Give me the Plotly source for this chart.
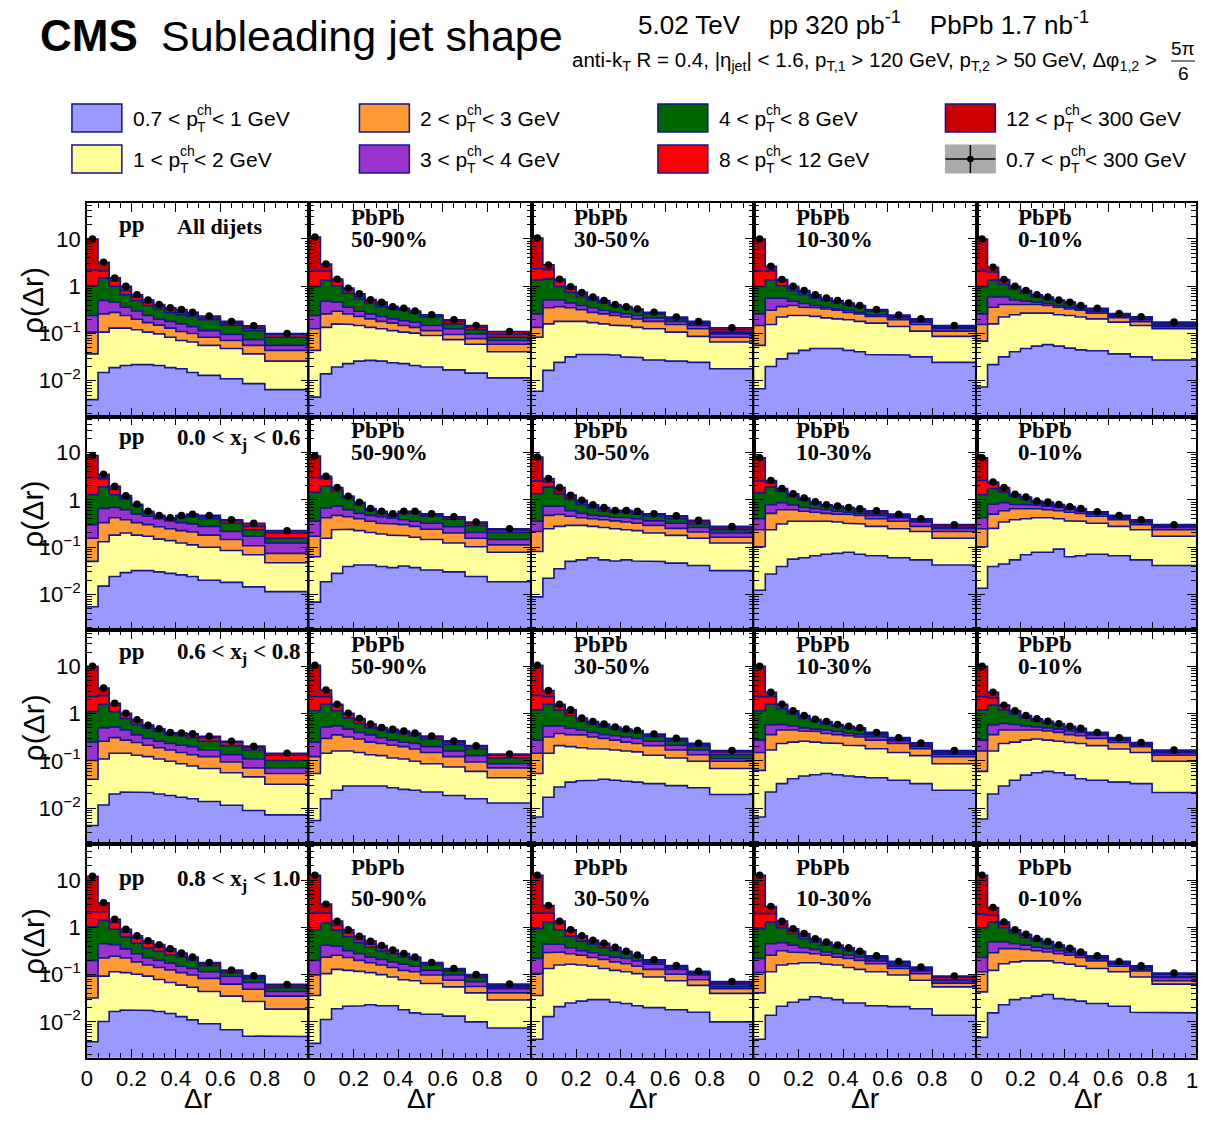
import plotly.graph_objects as go

# the page body keeps its default 8px margin, so the figure sits 8px in from the
# top-left corner; sized so the page is exactly 1206 x 1122 with nothing spilling over.
# positions below are screen pixels, mapped to paper coordinates by px()/py()
# (SX, BX undo the slight horizontal narrowing seen in the photographed page)
FW, FH, OFF = 1190, 1106, 8
SX, BX = 0.995, 4.0
SANS = "Liberation Sans, Arial, sans-serif"
SERIF = "Liberation Serif, Times New Roman, serif"
NAVY = "#14148c"

# --- binning -----------------------------------------------------------------
dr_edges = [0, 0.05, 0.1, 0.15, 0.2, 0.25, 0.3, 0.35, 0.4, 0.45, 0.5, 0.6, 0.7, 0.8, 1.0]
dr_centers = [0.025, 0.075, 0.125, 0.175, 0.225, 0.275, 0.325, 0.375, 0.425, 0.475,
              0.55, 0.65, 0.75, 0.9]

pt_lo = ["0.7", "1", "2", "3", "4", "8", "12", "0.7"]
pt_hi = ["1", "2", "3", "4", "8", "12", "300", "300"]
pt_colors = ["#9999ff", "#ffff99", "#ff9933", "#9933cc", "#006600", "#ff0000", "#cc0000"]

xj_labels = ["All dijets", "0.0 &lt; x<sub>j</sub> &lt; 0.6",
             "0.6 &lt; x<sub>j</sub> &lt; 0.8", "0.8 &lt; x<sub>j</sub> &lt; 1.0"]
cent_labels = ["pp", "50-90%", "30-50%", "10-30%", "0-10%"]

# --- data: cumulative stack height (top of each pT layer), per panel, row-major
stack_07_1 = [
    [0.0040, 0.015, 0.019, 0.021, 0.022, 0.022, 0.021, 0.019, 0.018, 0.015, 0.013, 0.011, 0.0087, 0.0065],
    [0.0045, 0.014, 0.0195, 0.023, 0.026, 0.027, 0.026, 0.024, 0.023, 0.021, 0.0195, 0.017, 0.0145, 0.0115],
    [0.0060, 0.0166, 0.0245, 0.032, 0.036, 0.037, 0.036, 0.035, 0.032, 0.031, 0.0275, 0.026, 0.0245, 0.018],
    [0.0068, 0.020, 0.029, 0.038, 0.044, 0.048, 0.049, 0.048, 0.044, 0.041, 0.036, 0.035, 0.032, 0.0245],
    [0.0074, 0.022, 0.032, 0.041, 0.048, 0.054, 0.058, 0.054, 0.049, 0.045, 0.043, 0.037, 0.032, 0.0275],
    [0.0055, 0.015, 0.024, 0.029, 0.032, 0.032, 0.030, 0.028, 0.026, 0.024, 0.020, 0.018, 0.0145, 0.0115],
    [0.0069, 0.0186, 0.028, 0.039, 0.042, 0.042, 0.039, 0.037, 0.040, 0.037, 0.033, 0.030, 0.024, 0.0186],
    [0.0089, 0.022, 0.035, 0.050, 0.054, 0.060, 0.054, 0.051, 0.054, 0.051, 0.050, 0.046, 0.041, 0.032],
    [0.0123, 0.027, 0.039, 0.056, 0.060, 0.066, 0.071, 0.074, 0.078, 0.071, 0.066, 0.060, 0.054, 0.042],
    [0.0135, 0.039, 0.044, 0.054, 0.069, 0.078, 0.078, 0.091, 0.063, 0.066, 0.071, 0.066, 0.054, 0.041],
    [0.0043, 0.0117, 0.020, 0.022, 0.022, 0.0214, 0.020, 0.0186, 0.017, 0.0158, 0.0138, 0.0115, 0.0089, 0.0072],
    [0.0055, 0.0158, 0.024, 0.0295, 0.030, 0.030, 0.0295, 0.027, 0.025, 0.024, 0.022, 0.0186, 0.0158, 0.0129],
    [0.0065, 0.017, 0.028, 0.0355, 0.038, 0.039, 0.041, 0.039, 0.037, 0.0355, 0.033, 0.030, 0.027, 0.0195],
    [0.0065, 0.022, 0.033, 0.042, 0.048, 0.051, 0.054, 0.051, 0.048, 0.046, 0.044, 0.039, 0.033, 0.024],
    [0.0059, 0.020, 0.0295, 0.039, 0.050, 0.056, 0.060, 0.056, 0.050, 0.042, 0.039, 0.0355, 0.033, 0.0214],
    [0.0038, 0.0102, 0.0166, 0.0178, 0.0178, 0.0174, 0.0166, 0.015, 0.0129, 0.011, 0.0091, 0.0068, 0.005, 0.0049],
    [0.0035, 0.0112, 0.019, 0.0214, 0.022, 0.023, 0.022, 0.022, 0.018, 0.0155, 0.0145, 0.0132, 0.010, 0.0074],
    [0.0043, 0.0129, 0.021, 0.025, 0.0275, 0.0295, 0.0295, 0.026, 0.0245, 0.022, 0.020, 0.018, 0.016, 0.010],
    [0.0043, 0.0138, 0.0214, 0.026, 0.0295, 0.034, 0.032, 0.0295, 0.025, 0.025, 0.022, 0.021, 0.019, 0.0138],
    [0.0047, 0.0155, 0.023, 0.0295, 0.032, 0.035, 0.038, 0.031, 0.0295, 0.0275, 0.0245, 0.0214, 0.016, 0.0155],
]

stack_1_2 = [
    [0.037, 0.107, 0.13, 0.13, 0.12, 0.107, 0.098, 0.083, 0.071, 0.066, 0.056, 0.048, 0.037, 0.026],
    [0.044, 0.135, 0.16, 0.155, 0.148, 0.135, 0.126, 0.115, 0.107, 0.102, 0.091, 0.074, 0.059, 0.041],
    [0.083, 0.16, 0.18, 0.186, 0.18, 0.17, 0.16, 0.15, 0.145, 0.135, 0.126, 0.107, 0.087, 0.066],
    [0.056, 0.155, 0.224, 0.24, 0.24, 0.23, 0.214, 0.204, 0.195, 0.18, 0.166, 0.141, 0.112, 0.087],
    [0.069, 0.16, 0.224, 0.25, 0.27, 0.275, 0.27, 0.25, 0.24, 0.224, 0.204, 0.174, 0.148, 0.126],
    [0.050, 0.13, 0.18, 0.20, 0.18, 0.17, 0.148, 0.138, 0.123, 0.112, 0.10, 0.085, 0.069, 0.047],
    [0.063, 0.155, 0.234, 0.24, 0.224, 0.204, 0.19, 0.18, 0.174, 0.162, 0.145, 0.123, 0.102, 0.078],
    [0.081, 0.245, 0.275, 0.29, 0.29, 0.275, 0.26, 0.245, 0.234, 0.224, 0.20, 0.178, 0.155, 0.123],
    [0.102, 0.234, 0.31, 0.355, 0.36, 0.36, 0.355, 0.34, 0.32, 0.31, 0.275, 0.245, 0.214, 0.155],
    [0.102, 0.25, 0.34, 0.38, 0.40, 0.42, 0.42, 0.40, 0.36, 0.355, 0.32, 0.275, 0.234, 0.17],
    [0.041, 0.11, 0.145, 0.145, 0.132, 0.123, 0.11, 0.098, 0.087, 0.078, 0.069, 0.056, 0.046, 0.032],
    [0.054, 0.145, 0.162, 0.162, 0.15, 0.135, 0.129, 0.115, 0.11, 0.098, 0.087, 0.074, 0.060, 0.044],
    [0.054, 0.145, 0.21, 0.20, 0.19, 0.18, 0.178, 0.17, 0.162, 0.155, 0.132, 0.115, 0.098, 0.069],
    [0.063, 0.17, 0.234, 0.25, 0.26, 0.25, 0.24, 0.234, 0.214, 0.21, 0.18, 0.15, 0.129, 0.087],
    [0.060, 0.162, 0.234, 0.25, 0.275, 0.29, 0.275, 0.26, 0.245, 0.234, 0.21, 0.178, 0.15, 0.098],
    [0.032, 0.093, 0.115, 0.11, 0.102, 0.093, 0.079, 0.068, 0.060, 0.054, 0.044, 0.035, 0.027, 0.0186],
    [0.036, 0.105, 0.129, 0.123, 0.117, 0.11, 0.10, 0.089, 0.078, 0.074, 0.065, 0.055, 0.041, 0.029],
    [0.036, 0.135, 0.16, 0.166, 0.16, 0.15, 0.135, 0.123, 0.115, 0.105, 0.089, 0.074, 0.059, 0.040],
    [0.041, 0.115, 0.16, 0.17, 0.178, 0.178, 0.166, 0.16, 0.141, 0.129, 0.115, 0.098, 0.076, 0.055],
    [0.043, 0.123, 0.17, 0.186, 0.195, 0.20, 0.195, 0.178, 0.166, 0.15, 0.135, 0.115, 0.089, 0.063],
]

stack_2_3 = [
    [0.107, 0.26, 0.28, 0.24, 0.20, 0.17, 0.15, 0.13, 0.11, 0.10, 0.083, 0.071, 0.056, 0.044],
    [0.126, 0.26, 0.295, 0.26, 0.23, 0.204, 0.18, 0.166, 0.148, 0.135, 0.115, 0.095, 0.078, 0.059],
    [0.135, 0.35, 0.37, 0.35, 0.32, 0.28, 0.26, 0.24, 0.224, 0.204, 0.18, 0.155, 0.126, 0.083],
    [0.148, 0.31, 0.37, 0.39, 0.36, 0.35, 0.33, 0.31, 0.28, 0.26, 0.23, 0.195, 0.155, 0.112],
    [0.155, 0.36, 0.41, 0.41, 0.41, 0.41, 0.39, 0.36, 0.33, 0.31, 0.27, 0.215, 0.178, 0.138],
    [0.155, 0.33, 0.42, 0.38, 0.33, 0.30, 0.27, 0.245, 0.224, 0.21, 0.18, 0.145, 0.107, 0.074],
    [0.17, 0.42, 0.47, 0.44, 0.40, 0.355, 0.32, 0.31, 0.30, 0.275, 0.24, 0.20, 0.155, 0.112],
    [0.214, 0.47, 0.49, 0.45, 0.42, 0.40, 0.38, 0.36, 0.34, 0.32, 0.29, 0.25, 0.21, 0.162],
    [0.234, 0.52, 0.62, 0.62, 0.575, 0.55, 0.52, 0.50, 0.49, 0.47, 0.40, 0.355, 0.275, 0.214],
    [0.245, 0.50, 0.59, 0.65, 0.65, 0.65, 0.62, 0.59, 0.55, 0.52, 0.45, 0.38, 0.30, 0.234],
    [0.102, 0.26, 0.31, 0.275, 0.245, 0.214, 0.19, 0.17, 0.15, 0.135, 0.123, 0.095, 0.071, 0.054],
    [0.123, 0.30, 0.355, 0.32, 0.29, 0.25, 0.234, 0.214, 0.20, 0.178, 0.15, 0.123, 0.095, 0.071],
    [0.145, 0.32, 0.38, 0.36, 0.355, 0.32, 0.30, 0.275, 0.25, 0.234, 0.21, 0.17, 0.135, 0.098],
    [0.15, 0.36, 0.45, 0.45, 0.43, 0.42, 0.38, 0.36, 0.34, 0.32, 0.275, 0.234, 0.18, 0.123],
    [0.162, 0.36, 0.45, 0.45, 0.45, 0.45, 0.43, 0.40, 0.36, 0.34, 0.30, 0.245, 0.20, 0.132],
    [0.093, 0.224, 0.245, 0.224, 0.186, 0.16, 0.141, 0.126, 0.11, 0.098, 0.083, 0.063, 0.049, 0.035],
    [0.098, 0.234, 0.257, 0.23, 0.20, 0.178, 0.16, 0.141, 0.123, 0.115, 0.098, 0.076, 0.056, 0.041],
    [0.105, 0.29, 0.30, 0.275, 0.257, 0.23, 0.21, 0.186, 0.17, 0.15, 0.129, 0.102, 0.078, 0.050],
    [0.11, 0.257, 0.32, 0.30, 0.29, 0.275, 0.257, 0.234, 0.22, 0.20, 0.17, 0.135, 0.105, 0.066],
    [0.115, 0.29, 0.355, 0.355, 0.34, 0.32, 0.30, 0.275, 0.257, 0.23, 0.195, 0.15, 0.12, 0.074],
]

stack_3_4 = [
    [0.24, 0.50, 0.46, 0.36, 0.30, 0.24, 0.20, 0.18, 0.16, 0.14, 0.115, 0.095, 0.074, 0.056],
    [0.24, 0.48, 0.46, 0.36, 0.295, 0.26, 0.23, 0.204, 0.186, 0.174, 0.148, 0.126, 0.098, 0.071],
    [0.26, 0.51, 0.51, 0.44, 0.39, 0.35, 0.31, 0.28, 0.26, 0.24, 0.214, 0.18, 0.148, 0.098],
    [0.26, 0.56, 0.56, 0.48, 0.43, 0.39, 0.36, 0.33, 0.31, 0.28, 0.25, 0.214, 0.174, 0.126],
    [0.26, 0.59, 0.59, 0.51, 0.48, 0.46, 0.43, 0.39, 0.36, 0.33, 0.295, 0.232, 0.195, 0.15],
    [0.30, 0.66, 0.69, 0.62, 0.50, 0.45, 0.40, 0.36, 0.33, 0.31, 0.275, 0.214, 0.17, 0.123],
    [0.355, 0.68, 0.74, 0.62, 0.52, 0.47, 0.44, 0.41, 0.38, 0.355, 0.32, 0.27, 0.204, 0.145],
    [0.355, 0.74, 0.74, 0.59, 0.52, 0.47, 0.45, 0.43, 0.42, 0.40, 0.36, 0.32, 0.26, 0.20],
    [0.40, 0.79, 0.87, 0.78, 0.69, 0.65, 0.62, 0.575, 0.55, 0.52, 0.47, 0.42, 0.34, 0.25],
    [0.42, 0.81, 0.87, 0.81, 0.79, 0.78, 0.74, 0.69, 0.63, 0.58, 0.50, 0.41, 0.33, 0.26],
    [0.25, 0.50, 0.52, 0.45, 0.355, 0.30, 0.26, 0.234, 0.214, 0.20, 0.17, 0.135, 0.11, 0.071],
    [0.25, 0.52, 0.55, 0.47, 0.40, 0.355, 0.31, 0.275, 0.25, 0.234, 0.20, 0.162, 0.129, 0.087],
    [0.275, 0.55, 0.55, 0.49, 0.45, 0.40, 0.36, 0.34, 0.32, 0.30, 0.26, 0.214, 0.17, 0.112],
    [0.275, 0.575, 0.59, 0.55, 0.50, 0.47, 0.45, 0.42, 0.38, 0.36, 0.32, 0.265, 0.20, 0.138],
    [0.275, 0.575, 0.62, 0.59, 0.55, 0.52, 0.50, 0.47, 0.43, 0.40, 0.355, 0.27, 0.215, 0.148],
    [0.20, 0.45, 0.43, 0.35, 0.275, 0.224, 0.20, 0.174, 0.15, 0.135, 0.115, 0.091, 0.068, 0.044],
    [0.20, 0.42, 0.40, 0.32, 0.275, 0.234, 0.21, 0.186, 0.166, 0.15, 0.123, 0.098, 0.071, 0.050],
    [0.22, 0.44, 0.44, 0.37, 0.32, 0.29, 0.257, 0.234, 0.22, 0.195, 0.166, 0.129, 0.098, 0.055],
    [0.22, 0.45, 0.47, 0.42, 0.37, 0.34, 0.30, 0.275, 0.257, 0.234, 0.195, 0.15, 0.12, 0.074],
    [0.23, 0.49, 0.49, 0.45, 0.42, 0.38, 0.355, 0.32, 0.29, 0.257, 0.215, 0.165, 0.13, 0.087],
]

stack_4_8 = [
    [1.02, 1.5, 1.0, 0.66, 0.50, 0.39, 0.33, 0.28, 0.25, 0.23, 0.195, 0.15, 0.115, 0.083],
    [0.98, 1.35, 1.02, 0.71, 0.54, 0.43, 0.37, 0.33, 0.31, 0.27, 0.224, 0.16, 0.12, 0.083],
    [1.35, 1.41, 0.98, 0.74, 0.59, 0.50, 0.44, 0.39, 0.35, 0.31, 0.26, 0.204, 0.16, 0.107],
    [0.98, 1.35, 1.02, 0.81, 0.66, 0.56, 0.50, 0.44, 0.39, 0.36, 0.295, 0.225, 0.186, 0.135],
    [0.98, 1.35, 1.10, 0.87, 0.71, 0.59, 0.52, 0.48, 0.43, 0.36, 0.315, 0.245, 0.205, 0.16],
    [1.29, 1.9, 1.29, 1.05, 0.76, 0.53, 0.43, 0.385, 0.42, 0.44, 0.40, 0.32, 0.234, 0.155],
    [1.45, 2.0, 1.51, 1.10, 0.78, 0.60, 0.52, 0.46, 0.52, 0.52, 0.46, 0.39, 0.29, 0.204],
    [1.35, 1.86, 1.35, 1.02, 0.79, 0.68, 0.575, 0.54, 0.54, 0.50, 0.45, 0.40, 0.31, 0.234],
    [1.41, 1.86, 1.51, 1.15, 0.98, 0.81, 0.74, 0.68, 0.65, 0.59, 0.52, 0.45, 0.36, 0.26],
    [1.29, 1.74, 1.48, 1.18, 1.02, 0.87, 0.83, 0.74, 0.66, 0.61, 0.52, 0.43, 0.35, 0.275],
    [1.10, 1.58, 1.10, 0.79, 0.59, 0.49, 0.42, 0.36, 0.34, 0.31, 0.26, 0.21, 0.17, 0.102],
    [1.15, 1.58, 1.15, 0.81, 0.62, 0.50, 0.45, 0.40, 0.37, 0.34, 0.29, 0.224, 0.178, 0.115],
    [1.20, 1.58, 1.20, 0.91, 0.69, 0.59, 0.52, 0.47, 0.42, 0.39, 0.33, 0.265, 0.205, 0.135],
    [1.15, 1.58, 1.26, 0.98, 0.79, 0.68, 0.60, 0.54, 0.49, 0.46, 0.36, 0.285, 0.215, 0.148],
    [1.20, 1.51, 1.20, 0.98, 0.81, 0.69, 0.62, 0.56, 0.50, 0.45, 0.37, 0.29, 0.225, 0.158],
    [1.02, 1.41, 0.91, 0.62, 0.46, 0.36, 0.31, 0.26, 0.234, 0.204, 0.155, 0.108, 0.083, 0.053],
    [0.89, 1.23, 0.87, 0.63, 0.47, 0.38, 0.32, 0.275, 0.234, 0.21, 0.16, 0.12, 0.087, 0.055],
    [0.93, 1.29, 0.89, 0.65, 0.51, 0.44, 0.37, 0.32, 0.275, 0.235, 0.18, 0.138, 0.105, 0.063],
    [0.93, 1.29, 0.98, 0.74, 0.575, 0.49, 0.42, 0.37, 0.32, 0.28, 0.22, 0.165, 0.127, 0.078],
    [0.98, 1.29, 0.98, 0.76, 0.60, 0.51, 0.44, 0.38, 0.33, 0.28, 0.232, 0.175, 0.14, 0.091],
]

stack_8_12 = [
    [2.2, 2.1, 1.3, 0.81, 0.59, 0.45, 0.37, 0.32, 0.275, 0.25, 0.21, 0.166, 0.13, 0.095],
    [2.1, 2.1, 1.29, 0.83, 0.60, 0.48, 0.41, 0.35, 0.32, 0.285, 0.235, 0.18, 0.135, 0.095],
    [2.34, 2.24, 1.32, 0.87, 0.66, 0.54, 0.48, 0.40, 0.36, 0.32, 0.27, 0.215, 0.172, 0.12],
    [2.1, 2.1, 1.29, 0.91, 0.74, 0.60, 0.54, 0.48, 0.42, 0.38, 0.31, 0.235, 0.195, 0.142],
    [2.1, 2.0, 1.32, 0.95, 0.78, 0.64, 0.56, 0.495, 0.445, 0.375, 0.33, 0.255, 0.215, 0.168],
    [2.95, 2.82, 1.66, 1.15, 0.78, 0.55, 0.45, 0.40, 0.44, 0.47, 0.44, 0.36, 0.275, 0.20],
    [2.95, 2.82, 1.66, 1.15, 0.85, 0.63, 0.55, 0.49, 0.55, 0.55, 0.49, 0.42, 0.32, 0.232],
    [2.51, 2.4, 1.51, 1.10, 0.87, 0.74, 0.65, 0.575, 0.575, 0.55, 0.49, 0.44, 0.345, 0.255],
    [2.51, 2.29, 1.58, 1.26, 1.02, 0.87, 0.76, 0.71, 0.67, 0.62, 0.56, 0.48, 0.38, 0.285],
    [2.57, 2.19, 1.66, 1.27, 1.10, 0.91, 0.87, 0.77, 0.69, 0.63, 0.54, 0.45, 0.365, 0.29],
    [2.29, 2.4, 1.48, 0.98, 0.68, 0.54, 0.46, 0.39, 0.375, 0.36, 0.31, 0.25, 0.19, 0.132],
    [2.29, 2.29, 1.48, 0.98, 0.74, 0.575, 0.49, 0.44, 0.41, 0.375, 0.32, 0.25, 0.20, 0.132],
    [2.4, 2.29, 1.41, 1.02, 0.78, 0.64, 0.565, 0.50, 0.45, 0.42, 0.355, 0.29, 0.225, 0.155],
    [2.29, 2.29, 1.48, 1.10, 0.87, 0.72, 0.645, 0.565, 0.515, 0.48, 0.385, 0.30, 0.23, 0.158],
    [2.29, 2.14, 1.48, 1.10, 0.87, 0.75, 0.66, 0.585, 0.52, 0.47, 0.385, 0.30, 0.235, 0.163],
    [2.14, 2.14, 1.26, 0.79, 0.59, 0.46, 0.38, 0.32, 0.265, 0.225, 0.17, 0.118, 0.09, 0.058],
    [2.0, 2.0, 1.10, 0.76, 0.55, 0.44, 0.37, 0.315, 0.268, 0.225, 0.172, 0.128, 0.094, 0.059],
    [2.0, 2.0, 1.20, 0.83, 0.63, 0.50, 0.43, 0.36, 0.30, 0.25, 0.195, 0.148, 0.112, 0.066],
    [1.95, 1.95, 1.10, 0.83, 0.65, 0.54, 0.45, 0.40, 0.35, 0.30, 0.238, 0.18, 0.137, 0.087],
    [1.86, 1.78, 1.15, 0.85, 0.68, 0.55, 0.48, 0.40, 0.345, 0.29, 0.24, 0.183, 0.146, 0.102],
]

# total rho(dr) for 0.7 < pT < 300 GeV (black points, also top of the 12-300 layer)
rho_total = [
    [10.0, 3.2, 1.5, 1.0, 0.66, 0.51, 0.41, 0.35, 0.32, 0.28, 0.235, 0.18, 0.146, 0.10],
    [11.0, 2.95, 1.41, 0.91, 0.69, 0.52, 0.46, 0.37, 0.34, 0.30, 0.25, 0.195, 0.148, 0.11],
    [10.5, 2.82, 1.41, 0.98, 0.74, 0.59, 0.50, 0.41, 0.37, 0.33, 0.28, 0.224, 0.18, 0.132],
    [10.0, 2.63, 1.38, 1.0, 0.81, 0.66, 0.56, 0.50, 0.44, 0.39, 0.32, 0.245, 0.204, 0.148],
    [10.0, 2.51, 1.38, 1.0, 0.81, 0.66, 0.59, 0.51, 0.46, 0.39, 0.34, 0.265, 0.225, 0.175],
    [8.7, 3.47, 1.95, 1.23, 0.81, 0.575, 0.47, 0.42, 0.47, 0.50, 0.47, 0.38, 0.32, 0.224],
    [8.5, 3.16, 1.82, 1.20, 0.89, 0.66, 0.575, 0.51, 0.575, 0.575, 0.51, 0.44, 0.34, 0.245],
    [8.1, 2.82, 1.82, 1.26, 0.98, 0.79, 0.69, 0.60, 0.60, 0.575, 0.51, 0.46, 0.37, 0.275],
    [7.8, 2.57, 1.74, 1.35, 1.10, 0.91, 0.79, 0.74, 0.69, 0.65, 0.59, 0.50, 0.40, 0.30],
    [7.8, 2.4, 1.82, 1.32, 1.15, 0.95, 0.90, 0.80, 0.72, 0.66, 0.56, 0.47, 0.38, 0.30],
    [10.0, 3.47, 1.66, 1.02, 0.74, 0.57, 0.48, 0.40, 0.39, 0.375, 0.33, 0.26, 0.205, 0.145],
    [10.5, 3.16, 1.58, 1.02, 0.79, 0.60, 0.51, 0.465, 0.43, 0.39, 0.335, 0.265, 0.21, 0.14],
    [10.5, 3.09, 1.58, 1.20, 0.81, 0.68, 0.60, 0.52, 0.47, 0.44, 0.37, 0.30, 0.235, 0.165],
    [10.0, 2.82, 1.58, 1.15, 0.91, 0.76, 0.68, 0.59, 0.54, 0.50, 0.40, 0.31, 0.24, 0.165],
    [10.0, 2.82, 1.51, 1.15, 0.91, 0.78, 0.69, 0.61, 0.54, 0.49, 0.40, 0.31, 0.245, 0.17],
    [12.0, 3.31, 1.48, 0.91, 0.66, 0.52, 0.43, 0.35, 0.285, 0.235, 0.18, 0.125, 0.095, 0.062],
    [12.6, 3.09, 1.35, 0.89, 0.65, 0.51, 0.41, 0.33, 0.28, 0.235, 0.18, 0.135, 0.10, 0.063],
    [12.6, 2.88, 1.35, 0.89, 0.66, 0.53, 0.46, 0.38, 0.31, 0.26, 0.205, 0.155, 0.118, 0.071],
    [12.6, 2.75, 1.35, 0.93, 0.74, 0.575, 0.49, 0.42, 0.37, 0.31, 0.25, 0.19, 0.145, 0.093],
    [12.6, 2.63, 1.29, 0.89, 0.71, 0.58, 0.50, 0.42, 0.36, 0.30, 0.25, 0.19, 0.153, 0.108],
]

layers = [stack_07_1, stack_1_2, stack_2_3, stack_3_4, stack_4_8, stack_8_12, rho_total]

# --- geometry (screen pixels) ---------------------------------------------------
COL_L, COL_W = 85, 222.8
ROW_T, ROW_H = 203, 213.7
Y_RANGE = [-2.76, 1.76]

# Liberation Sans advance widths (em) for the legend pieces
CHAR_W = {"0": 0.556, "1": 0.556, "2": 0.556, "3": 0.556, "4": 0.556, "7": 0.556, "8": 0.556,
          ".": 0.278, " ": 0.278, "<": 0.584, "p": 0.556, "c": 0.5, "h": 0.556}


def px(x):
    return min(((x - BX) / SX - OFF) / FW, 1.0)


def py(y):
    return 1 - (y - OFF) / FH


def text_w(s, size):
    # width in screen pixels
    return sum(CHAR_W.get(ch, 0.556) for ch in s) * size * SX


def step(vals):
    xs, ys = [], []
    for i, v in enumerate(vals):
        xs += [dr_edges[i], dr_edges[i + 1]]
        ys += [v, v]
    return xs, ys


fig = go.Figure()
layout_axes = {}
minor_y = [m * 10.0 ** e for e in range(-3, 2) for m in range(2, 10)]
minor_x = [i * 0.05 for i in range(21)]
x_ticks = [0, 0.2, 0.4, 0.6, 0.8]

for k in range(20):
    r, c = divmod(k, 5)
    xa, ya = f"x{k + 1}", f"y{k + 1}"

    # invisible floor for the lowest fill
    fig.add_trace(go.Scatter(x=[0, 1], y=[1e-4, 1e-4], xaxis=xa, yaxis=ya, mode="lines",
                             line=dict(width=0), showlegend=False, hoverinfo="skip"))
    for li, arr in enumerate(layers):
        xs, ys = step(arr[k])
        fig.add_trace(go.Scatter(x=xs, y=ys, xaxis=xa, yaxis=ya, mode="lines",
                                 line=dict(color=NAVY, width=1.6), fill="tonexty",
                                 fillcolor=pt_colors[li], showlegend=False, hoverinfo="skip"))
    fig.add_trace(go.Scatter(x=dr_centers, y=rho_total[k], xaxis=xa, yaxis=ya, mode="markers",
                             marker=dict(color="black", size=7.5), showlegend=False))

    x0 = COL_L + COL_W * c
    y0 = ROW_T + ROW_H * r
    layout_axes["xaxis" if k == 0 else f"xaxis{k + 1}"] = dict(
        domain=[px(x0), px(x0 + COL_W)], anchor=ya, range=[0, 1],
        showline=True, linecolor="black", linewidth=1.5, mirror="ticks",
        ticks="inside", ticklen=9, tickcolor="black", tickwidth=1,
        tickvals=x_ticks, ticktext=["0", "0.2", "0.4", "0.6", "0.8"],
        showticklabels=(r == 3), ticklabeloverflow="allow",
        tickfont=dict(family=SANS, size=22, color="black"),
        minor=dict(tickvals=minor_x, ticks="inside", ticklen=5, tickcolor="black"),
        showgrid=False, zeroline=False,
    )
    layout_axes["yaxis" if k == 0 else f"yaxis{k + 1}"] = dict(
        domain=[py(y0 + ROW_H), py(y0)], anchor=xa, type="log", range=Y_RANGE,
        showline=True, linecolor="black", linewidth=1.5, mirror="ticks",
        ticks="inside", ticklen=9, tickcolor="black", tickwidth=1,
        tickvals=[0.01, 0.1, 1, 10], ticktext=["10<sup>−2</sup>", "10<sup>−1</sup>", "1", "10"],
        showticklabels=(c == 0), ticklabeloverflow="allow",
        tickfont=dict(family=SANS, size=22, color="black"),
        minor=dict(tickvals=minor_y, ticks="inside", ticklen=5, tickcolor="black"),
        showgrid=False, zeroline=False,
    )

annotations = []


def text(x, y, s, size, family=SANS, anchor="left", angle=0):
    annotations.append(dict(x=px(x), y=py(y), xref="paper", yref="paper", text=s,
                            showarrow=False, xanchor=anchor, yanchor="middle", textangle=angle,
                            borderpad=0, font=dict(family=family, size=size, color="black")))


# end label "1" of the last panel's x axis (kept inside the page edge)
text(1192, 1080, "1", 22, anchor="center")

# panel labels
pp_dy = [21, 20, 21, 33]
xj_dy = [23, 23, 23, 36]
pb_dy = [14, 14, 14, 23]
ct_dy = [36, 36, 36, 54]
for r in range(4):
    y0 = ROW_T + ROW_H * r
    text(COL_L + 31, y0 + pp_dy[r], "<b>pp</b>", 23, SERIF)
    text(COL_L + 89, y0 + xj_dy[r], f"<b>{xj_labels[r]}</b>", 22 if r == 0 else 23, SERIF)
    for c in range(1, 5):
        x0 = COL_L + COL_W * c
        text(x0 + 41, y0 + pb_dy[r], "<b>PbPb</b>", 23, SERIF)
        text(x0 + 41, y0 + ct_dy[r], f"<b>{cent_labels[c]}</b>", 23, SERIF)
    text(31, y0 + 98, "ρ(Δr)", 30, angle=-90, anchor="center")

for c in range(5):
    text(COL_L + COL_W * c + COL_W / 2, 1098, "Δr", 28, anchor="center")

# header
text(37, 35, "<b>CMS</b>", 44)
text(158, 36, "Subleading jet shape", 43)
text(636, 24, "5.02 TeV&nbsp;&nbsp;&nbsp;&nbsp;pp 320 pb<sup>-1</sup>&nbsp;&nbsp;&nbsp;&nbsp;"
              "PbPb 1.7 nb<sup>-1</sup>", 26)
text(570, 61, "anti-k<sub>T</sub> R = 0.4, |η<sub>jet</sub>| &lt; 1.6, p<sub>T,1</sub> &gt; 120 GeV, "
              "p<sub>T,2</sub> &gt; 50 GeV, Δφ<sub>1,2</sub> &gt;", 20.5)
text(1183, 49, "5π", 19, anchor="center")
text(1183, 73, "6", 19, anchor="center")

shapes = [dict(type="line", xref="paper", yref="paper", x0=px(1171), x1=px(1195),
               y0=py(61), y1=py(61), line=dict(color="black", width=1))]

# legend (column-major, 4 columns x 2 rows)
leg_x = [70, 358, 657, 945]
leg_y = [118, 159]
LS, SS = 21, 14
for i in range(8):
    cx, ry = leg_x[i // 2], leg_y[i % 2]
    if i < 7:
        shapes.append(dict(type="rect", xref="paper", yref="paper",
                           x0=px(cx), x1=px(cx + 50), y0=py(ry + 14), y1=py(ry - 14),
                           fillcolor=pt_colors[i], line=dict(color=NAVY, width=1.5)))
    else:
        shapes.append(dict(type="rect", xref="paper", yref="paper",
                           x0=px(cx), x1=px(cx + 50), y0=py(ry + 14), y1=py(ry - 14),
                           fillcolor="#aaaaaa", line=dict(color="#aaaaaa", width=1)))
        shapes.append(dict(type="line", xref="paper", yref="paper",
                           x0=px(cx), x1=px(cx + 50), y0=py(ry), y1=py(ry),
                           line=dict(color="black", width=1.5)))
        shapes.append(dict(type="line", xref="paper", yref="paper",
                           x0=px(cx + 25), x1=px(cx + 25), y0=py(ry + 14), y1=py(ry - 14),
                           line=dict(color="black", width=1.5)))
        shapes.append(dict(type="circle", xref="paper", yref="paper",
                           x0=px(cx + 22), x1=px(cx + 28), y0=py(ry + 3), y1=py(ry - 3),
                           fillcolor="black", line=dict(color="black", width=1)))
    # "lo < p" + stacked ch/T + "< hi GeV"
    tx = cx + 60
    head = f"{pt_lo[i]} < p"
    text(tx, ry, head.replace("<", "&lt;"), LS)
    sx = tx + text_w(head, LS)
    text(sx, ry - 8, "ch", SS)
    text(sx, ry + 9, "T", SS)
    text(sx + text_w("ch", SS), ry, f"&lt; {pt_hi[i]} GeV", LS)

fig.update_layout(
    width=FW, height=FH, margin=dict(l=0, r=0, t=0, b=0),
    paper_bgcolor="white", plot_bgcolor="white",
    annotations=annotations, shapes=shapes, showlegend=False,
    **layout_axes,
)

fig.write_html("out.html")
